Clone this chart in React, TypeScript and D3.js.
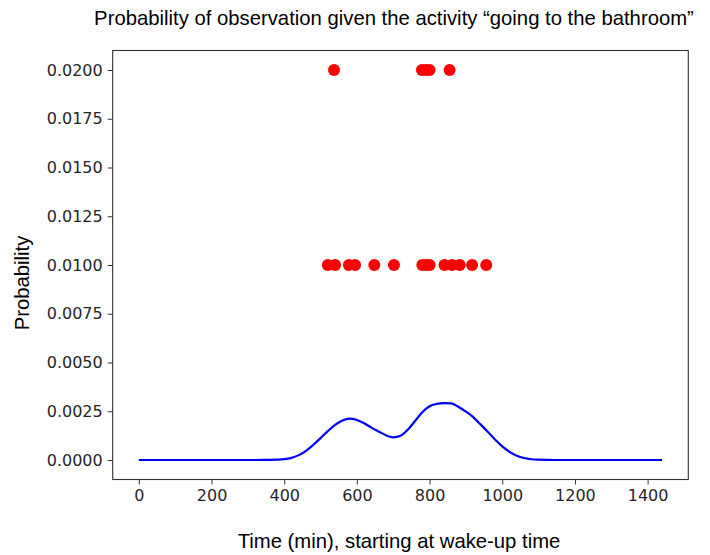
import React, { useRef, useEffect } from 'react';
import * as d3 from 'd3';

// observation times (min) and their probabilities
const obsHigh = [537, 779, 790, 800, 855];
const obsLow = [520, 540, 578, 595, 648, 702, 780, 790, 800, 841, 862, 883, 917, 956];

// smoothed likelihood curve, sampled every 20 min
const curveT = [
  0, 20, 40, 60, 80, 100, 120, 140, 160, 180, 200, 220, 240, 260, 280, 300, 320, 340,
  360, 380, 400, 420, 440, 460, 480, 500, 520, 540, 560, 580, 600, 620, 640, 660,
  680, 700, 720, 740, 760, 780, 800, 820, 840, 860, 880, 900, 920, 940, 960,
  980, 1000, 1020, 1040, 1060, 1080, 1100, 1120, 1140, 1160, 1200, 1240, 1280, 1320,
  1360, 1400, 1440,
];
const curveP = [
  0, 0, 0, 0, 0, 0, 0, 0, 0, 0, 0, 0, 0, 0, 0, 0, 0, 0.000002,
  0.000006, 0.000017, 0.000042, 0.00011, 0.00025, 0.00047, 0.00078, 0.00112, 0.00148, 0.00180, 0.00203, 0.00212, 0.00205, 0.00188, 0.00166, 0.00146,
  0.00127, 0.00116, 0.00124, 0.00155, 0.00200, 0.00245, 0.00276, 0.00288, 0.00292, 0.00290, 0.00272, 0.00248, 0.00220, 0.00183, 0.00145,
  0.00105, 0.00070, 0.00042, 0.00022, 0.00010, 0.00004, 0.000015, 0.000005, 0.000001, 0, 0, 0, 0, 0,
  0, 0, 0,
];

const xTicks = [0, 200, 400, 600, 800, 1000, 1200, 1400];
const yTicks = [0, 0.0025, 0.005, 0.0075, 0.01, 0.0125, 0.015, 0.0175, 0.02];

const App: React.FC = () => {
  const svgRef = useRef<SVGSVGElement>(null);

  useEffect(() => {
    const svg = d3.select(svgRef.current);
    svg.selectAll('*').remove();

    const left = 112.7, right = 688.3, top = 50.5, bottom = 479.5;

    const x = d3.scaleLinear().domain([-72, 1512]).range([left, right]);
    const y = d3.scaleLinear().domain([-0.001, 0.021]).range([bottom, top]);

    const tickFont = 'DejaVu Sans, sans-serif';

    // curve
    const pts = curveT.map((t, i) => [t, curveP[i]] as [number, number]);
    const line = d3.line<[number, number]>()
      .x(d => x(d[0]))
      .y(d => y(d[1]))
      .curve(d3.curveMonotoneX);
    svg.append('path')
      .attr('d', line(pts)!)
      .attr('fill', 'none')
      .attr('stroke', '#0000ff')
      .attr('stroke-width', 2.2);

    // observations
    const dots = svg.append('g').attr('fill', '#ff0000');
    dots.selectAll('circle.h')
      .data(obsHigh)
      .join('circle')
      .attr('cx', d => x(d))
      .attr('cy', y(0.02))
      .attr('r', 6);
    dots.selectAll('circle.l')
      .data(obsLow)
      .join('circle')
      .attr('cx', d => x(d))
      .attr('cy', y(0.01))
      .attr('r', 6);

    // frame
    svg.append('rect')
      .attr('x', left).attr('y', top)
      .attr('width', right - left).attr('height', bottom - top)
      .attr('fill', 'none').attr('stroke', '#333').attr('stroke-width', 1.1);

    // x axis
    const xa = svg.append('g').attr('transform', `translate(0,${bottom})`)
      .call(d3.axisBottom(x).tickValues(xTicks).tickSize(5).tickPadding(5).tickFormat(d3.format('d')));
    xa.select('.domain').remove();
    xa.selectAll('line').attr('stroke', '#333');
    xa.selectAll('text').attr('font-family', tickFont).attr('font-size', 16).attr('fill', '#262626');

    // y axis
    const ya = svg.append('g').attr('transform', `translate(${left},0)`)
      .call(d3.axisLeft(y).tickValues(yTicks).tickSize(5).tickPadding(5).tickFormat(d3.format('.4f')));
    ya.select('.domain').remove();
    ya.selectAll('line').attr('stroke', '#333');
    ya.selectAll('text').attr('font-family', tickFont).attr('font-size', 16).attr('fill', '#262626');

    // labels
    const labelFont = 'Liberation Sans, Arial, sans-serif';
    svg.append('text')
      .attr('x', 394).attr('y', 25)
      .attr('text-anchor', 'middle')
      .attr('font-family', labelFont).attr('font-size', 20.3)
      .text('Probability of observation given the activity \u201cgoing to the bathroom\u201d');
    svg.append('text')
      .attr('x', 399).attr('y', 548)
      .attr('text-anchor', 'middle')
      .attr('font-family', labelFont).attr('font-size', 20.3)
      .text('Time (min), starting at wake-up time');
    svg.append('text')
      .attr('transform', `translate(29,283) rotate(-90)`)
      .attr('text-anchor', 'middle')
      .attr('font-family', labelFont).attr('font-size', 20.3)
      .text('Probability');
  }, []);

  return (
    <svg ref={svgRef} width={710} height={555}
      style={{ position: 'absolute', left: 0, top: 0, background: '#fff' }} />
  );
};

export default App;
